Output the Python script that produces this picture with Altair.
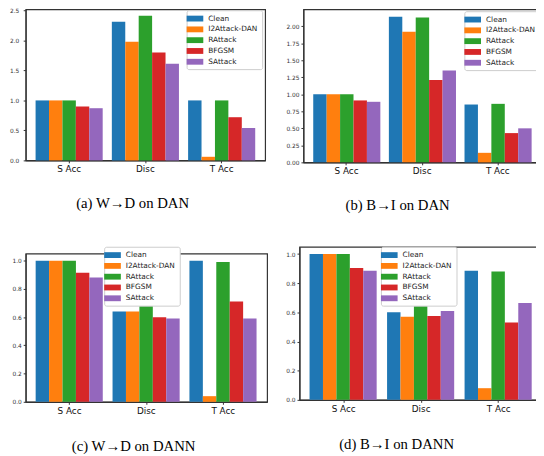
import altair as alt
import pandas as pd

metrics = ["S Acc", "Disc", "T Acc"]
methods = ["Clean", "I2Attack-DAN", "RAttack", "BFGSM", "SAttack"]
colors = ["#1f77b4", "#ff7f0e", "#2ca02c", "#d62728", "#9467bd"]

# values per method: [S Acc, Disc, T Acc]
a_vals = {
    "Clean": [1.00, 2.31, 1.00],
    "I2Attack-DAN": [1.00, 1.98, 0.06],
    "RAttack": [1.00, 2.41, 1.00],
    "BFGSM": [0.90, 1.80, 0.72],
    "SAttack": [0.87, 1.61, 0.54],
}
b_vals = {
    "Clean": [1.00, 2.14, 0.85],
    "I2Attack-DAN": [1.00, 1.92, 0.14],
    "RAttack": [1.00, 2.13, 0.86],
    "BFGSM": [0.91, 1.21, 0.43],
    "SAttack": [0.89, 1.35, 0.50],
}
c_vals = {
    "Clean": [1.00, 0.64, 1.00],
    "I2Attack-DAN": [1.00, 0.64, 0.04],
    "RAttack": [1.00, 0.70, 0.99],
    "BFGSM": [0.915, 0.60, 0.71],
    "SAttack": [0.88, 0.59, 0.59],
}
d_vals = {
    "Clean": [1.00, 0.60, 0.885],
    "I2Attack-DAN": [1.00, 0.57, 0.08],
    "RAttack": [1.00, 0.65, 0.88],
    "BFGSM": [0.905, 0.575, 0.53],
    "SAttack": [0.885, 0.61, 0.665],
}

ticks_a = [0.0, 0.5, 1.0, 1.5, 2.0, 2.5]
ticks_b = [0.0, 0.25, 0.5, 0.75, 1.0, 1.25, 1.5, 1.75, 2.0]
ticks_cd = [0.0, 0.2, 0.4, 0.6, 0.8, 1.0]

captions = ["(a)  W\u2192D on DAN", "(b)  B\u2192I on DAN",
            "(c)  W\u2192D on DANN", "(d)  B\u2192I on DANN"]


def panel(vals, caption, width, height, ymax, ticks, fmt, lx, ly, dx, label_pad, offset):
    rows = []
    for m in methods:
        for metric, v in zip(metrics, vals[m]):
            rows.append({"metric": metric, "method": m, "value": v})
    df = pd.DataFrame(rows)
    return alt.Chart(df).mark_bar().encode(
        x=alt.X("metric:N", sort=metrics,
                scale=alt.Scale(paddingInner=0.12, paddingOuter=0.13),
                axis=alt.Axis(title=None, labelAngle=0, labelFontSize=9,
                              labelColor="#111", tickSize=2.5, labelPadding=2)),
        xOffset=alt.XOffset("method:N", sort=methods,
                            scale=alt.Scale(paddingInner=0, paddingOuter=0)),
        y=alt.Y("value:Q", scale=alt.Scale(domain=[0, ymax], nice=False),
                axis=alt.Axis(title=None, values=ticks, format=fmt, grid=False,
                              labelFontSize=6, tickSize=2.5, labelPadding=label_pad)),
        color=alt.Color("method:N", sort=methods,
                        scale=alt.Scale(domain=methods, range=colors),
                        legend=alt.Legend(
                            orient="none", legendX=lx, legendY=ly, title=None,
                            symbolType="M-2,-0.7L2,-0.7L2,0.7L-2,0.7Z",
                            symbolSize=72, symbolStrokeWidth=0,
                            labelFontSize=7.5, labelFont="DejaVu Sans",
                            labelColor="#222", labelOffset=9, rowPadding=3,
                            padding=4, strokeColor="#cccccc", fillColor="white",
                            cornerRadius=2)),
    ).properties(
        width=width, height=height,
        title=alt.TitleParams(caption, orient="bottom", dx=dx, offset=offset),
    )


pa = panel(a_vals, captions[0], 244, 154, 2.52, ticks_a, ".1f", 164, 1, -13, 4.5, 23)
pb = panel(b_vals, captions[1], 242, 156, 2.25, ticks_b, ".2f", 164, 2, -25, 2, 23)
pc = panel(c_vals, captions[2], 246, 151, 1.05, ticks_cd, ".1f", 80, -7, -13, 2, 25)
pd_ = panel(d_vals, captions[3], 248, 156, 1.05, ticks_cd, ".1f", 83, 0, -25, 2, 25)

chart = alt.concat(
    pa, pb, pc, pd_, columns=2, align="none",
    spacing={"row": 31, "column": 17},
).resolve_legend(color="independent").resolve_scale(color="independent").properties(
    padding={"left": 0, "top": -6, "right": -8, "bottom": 0},
).configure_view(
    stroke="#333", strokeWidth=1.2
).configure_axis(
    domainColor="#333", domainWidth=1.2, tickColor="#333", labelColor="#333",
    labelFont="DejaVu Sans"
).configure_title(
    font="Liberation Serif", fontSize=15, fontWeight="normal", color="black"
)

chart.save("out.html", embed_options={"renderer": "svg", "actions": False})
